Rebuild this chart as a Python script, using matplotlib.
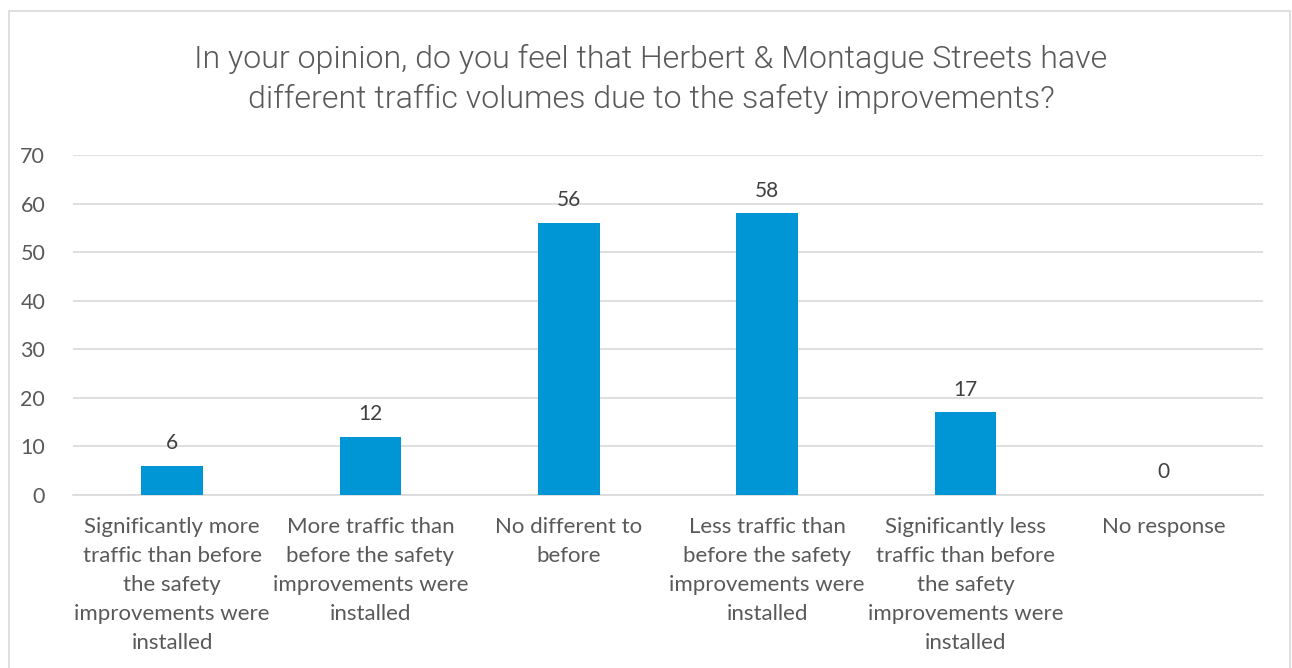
import matplotlib.pyplot as plt
from matplotlib.patches import Rectangle

categories = [
    "Significantly more\ntraffic than before\nthe safety\nimprovements were\ninstalled",
    "More traffic than\nbefore the safety\nimprovements were\ninstalled",
    "No different to\nbefore",
    "Less traffic than\nbefore the safety\nimprovements were\ninstalled",
    "Significantly less\ntraffic than before\nthe safety\nimprovements were\ninstalled",
    "No response",
]
values = [6, 12, 56, 58, 17, 0]
yticks = [0, 10, 20, 30, 40, 50, 60, 70]
title = "In your opinion, do you feel that Herbert & Montague Streets have\ndifferent traffic volumes due to the safety improvements?"

plt.rcParams['font.family'] = ['Lato', 'DejaVu Sans']
txt = '#595959'

fig = plt.figure(figsize=(12.92, 6.68), dpi=100)
fig.patches.append(Rectangle((9/1292, -0.1), (1290-9)/1292, 1.1 - 11/668,
                             transform=fig.transFigure, fill=False,
                             edgecolor='#d9d9d9', linewidth=1.2))
ax = fig.add_axes([73/1292, 1-495/668, (1263-73)/1292, (495-155)/668])
x = list(range(len(categories)))
ax.bar(x, values, width=0.31, color='#0096D6', zorder=3)
for xi, v in zip(x, values):
    ax.text(xi, v + 2.6, str(v), ha='center', va='bottom', fontsize=15, color='#404040')
ax.set_xlim(-0.5, len(categories) - 0.5)
ax.set_ylim(0, 70)
ax.set_yticks(yticks)
ax.yaxis.grid(True, color='#d9d9d9', linewidth=1.2, zorder=0)
ax.set_axisbelow(True)
for s in ['top', 'right', 'left']:
    ax.spines[s].set_visible(False)
ax.spines['bottom'].set_color('#d9d9d9')
ax.spines['bottom'].set_linewidth(1.2)
ax.tick_params(axis='both', length=0, colors=txt)
ax.tick_params(axis='y', pad=20, labelsize=15.5)
ax.tick_params(axis='x', pad=16, labelsize=16)
ax.set_xticks(x)
ax.set_xticklabels(categories, linespacing=1.56)
fig.text(651/1292, 1-79/668, title, ha='center', va='center', fontsize=23.1,
         family=['Roboto', 'DejaVu Sans'], fontweight=300, color=txt, linespacing=1.4)
fig.savefig('out.png', dpi=100)
